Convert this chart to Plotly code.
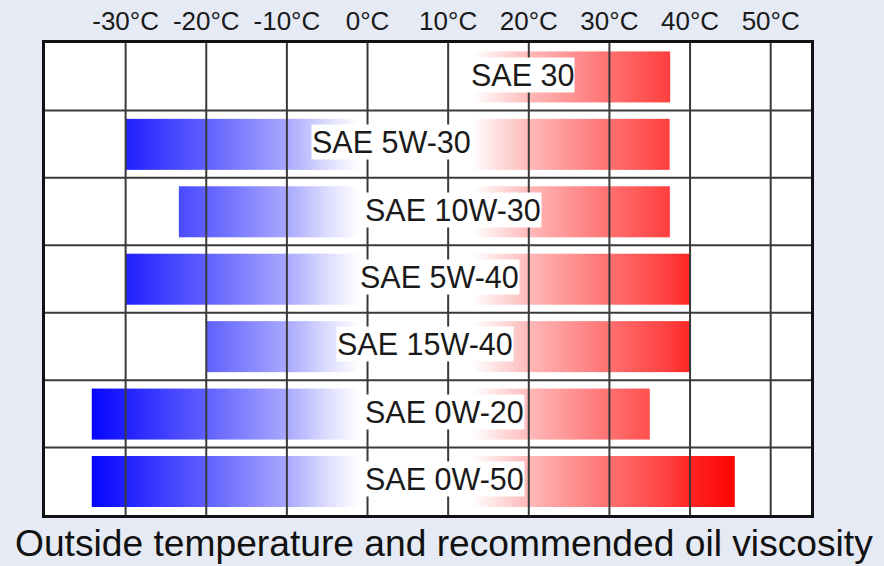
import numpy as np
import plotly.graph_objects as go

# ---- data ----
grades = ["SAE 30", "SAE 5W-30", "SAE 10W-30", "SAE 5W-40", "SAE 15W-40", "SAE 0W-20", "SAE 0W-50"]
low_temp = [10, -30, -23.4, -30, -20, -34.2, -34.2]      # left end of each bar (°C)
high_temp = [37.5, 37.5, 37.5, 40, 40, 35, 45.6]         # right end of each bar (°C)
label_temp = [19.2, 3.0, 10.6, 8.9, 7.1, 9.6, 9.6]       # where each grade label sits (°C)
tick_temps = [-30, -20, -10, 0, 10, 20, 30, 40, 50]
tick_labels = ["-30°C", "-20°C", "-10°C", "0°C", "10°C", "20°C", "30°C", "40°C", "50°C"]
title_text = "Outside temperature and recommended oil viscosity"

# colour ramp over temperature: blue (cold) -> white -> red (hot)
ZMIN, ZMAX = -35.0, 46.0
ramp = [(-35, "rgb(0,0,255)"), (-30, "rgb(32,32,255)"), (-20, "rgb(96,96,255)"),
        (-10, "rgb(168,168,255)"), (-5, "rgb(220,220,255)"), (-1, "rgb(255,255,255)"),
        (13, "rgb(255,255,255)"), (20, "rgb(255,185,185)"), (30, "rgb(255,112,112)"),
        (37.5, "rgb(255,62,62)"), (40, "rgb(255,36,36)"), (46, "rgb(255,0,0)")]
colorscale = [[(t - ZMIN) / (ZMAX - ZMIN), c] for t, c in ramp]

fig = go.Figure()
half = 0.375
for i, (g, lo, hi) in enumerate(zip(grades, low_temp, high_temp)):
    n = int(round((hi - lo) / 0.1))
    xe = np.linspace(lo, hi, n + 1)
    xc = (xe[:-1] + xe[1:]) / 2
    fig.add_trace(go.Heatmap(
        x=xe, y=[i - half, i + half], z=[xc],
        colorscale=colorscale, zmin=ZMIN, zmax=ZMAX,
        showscale=False, hoverinfo="skip", name=g))

shapes = []
for t in tick_temps:
    shapes.append(dict(type="line", xref="x", yref="paper", x0=t, x1=t, y0=0, y1=1,
                       line=dict(color="#3a3a3a", width=2), layer="above"))
for i in range(len(grades) - 1):
    shapes.append(dict(type="line", xref="paper", yref="y", x0=0, x1=1, y0=i + 0.5, y1=i + 0.5,
                       line=dict(color="#3a3a3a", width=2), layer="above"))

annotations = []
for i, (g, lx) in enumerate(zip(grades, label_temp)):
    annotations.append(dict(x=lx, y=i - 0.03, xref="x", yref="y", text=g, showarrow=False,
                            font=dict(family="Liberation Sans, Arial, sans-serif", size=30.5, color="#1a1a1a"),
                            bgcolor="white", borderpad=0))
annotations.append(dict(x=(444 - 45) / 766, y=-0.06, xref="paper", yref="paper", text=title_text,
                        showarrow=False, yanchor="middle",
                        font=dict(family="Liberation Sans, Arial, sans-serif", size=37.2, color="#111")))

fig.update_layout(
    width=884, height=566,
    margin=dict(l=45, r=73, t=43, b=51, autoexpand=False),
    paper_bgcolor="#e5eaf4", plot_bgcolor="white",
    shapes=shapes, annotations=annotations, showlegend=False,
    xaxis=dict(range=[-40, 55], side="top", tickvals=tick_temps, ticktext=tick_labels,
               tickfont=dict(family="Liberation Sans, Arial, sans-serif", size=26, color="#1a1a1a"),
               showgrid=False, zeroline=False, ticks="", showline=True, mirror=True,
               linecolor="#111", linewidth=3, fixedrange=True, automargin=False),
    yaxis=dict(range=[6.5, -0.5], showticklabels=False, showgrid=False, zeroline=False,
               ticks="", showline=True, mirror=True, linecolor="#111", linewidth=3,
               fixedrange=True, automargin=False),
)

fig.write_html("out.html", config={"displayModeBar": False},
               post_script="document.body.style.margin='0';document.body.style.overflow='hidden';"
                           "document.body.style.background='#e5eaf4';")
